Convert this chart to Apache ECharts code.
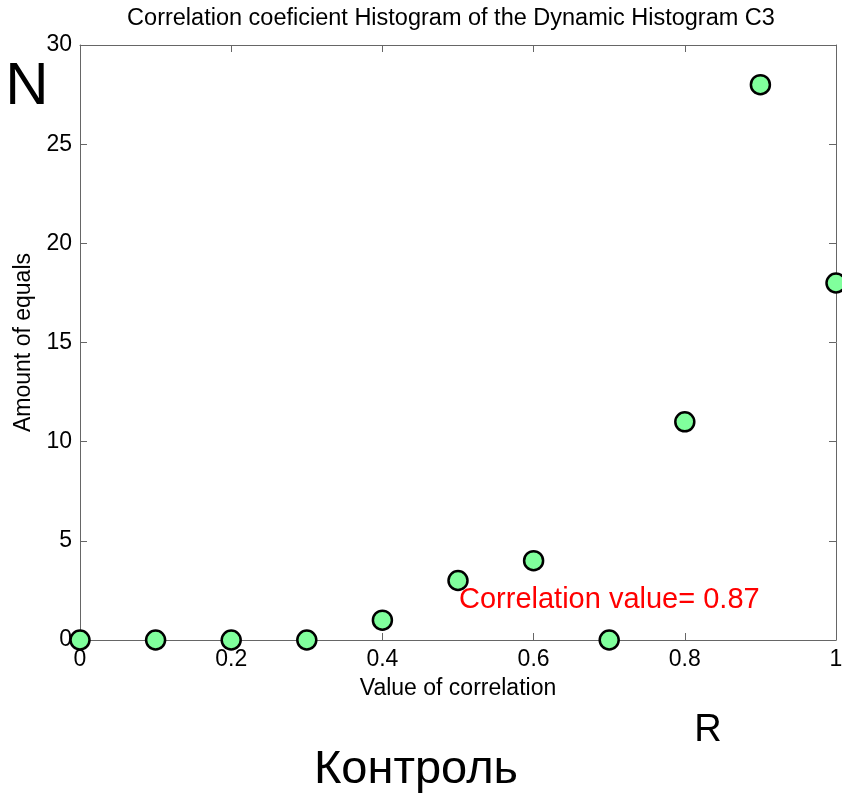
<!DOCTYPE html>
<html>
<head>
<meta charset="utf-8">
<script src="https://cdn.jsdelivr.net/npm/echarts@6/dist/echarts.min.js"></script>
<style>
  html, body { margin: 0; padding: 0; background: #fff; }
  #chart { width: 842px; height: 798px; }
</style>
</head>
<body>
<div id="chart"></div>
<script>
// correlation value bins and how many equals fell in each
const corrValues = [0, 0.1, 0.2, 0.3, 0.4, 0.5, 0.6, 0.7, 0.8, 0.9, 1.0];
const amountOfEquals = [0, 0, 0, 0, 1, 3, 4, 0, 11, 28, 18];
const xTicks = [0, 0.2, 0.4, 0.6, 0.8, 1];
const yTicks = [0, 5, 10, 15, 20, 25, 30];

const font = 'Liberation Sans, Arial, sans-serif';
const axisColor = '#666';

const chart = echarts.init(document.getElementById('chart'));

const baseAxis = {
  axisLine: { show: true, onZero: false, lineStyle: { color: axisColor, width: 1 } },
  axisTick: { show: true, inside: true, length: 7, lineStyle: { color: axisColor } },
  splitLine: { show: false }
};

const option = {
  animation: false,
  grid: { left: 80, right: 6, top: 45, bottom: 158, outerBoundsMode: 'none', containLabel: false },
  xAxis: [
    Object.assign({}, baseAxis, {
      type: 'value',
      min: 0, max: 1, interval: 0.2,
      position: 'bottom',
      name: 'Value of correlation',
      nameLocation: 'middle',
      nameGap: 37,
      nameTextStyle: { fontFamily: font, fontSize: 23, color: '#000' },
      axisLabel: {
        margin: 8,
        fontFamily: font, fontSize: 23, color: '#000',
        formatter: v => xTicks.indexOf(Math.round(v * 10) / 10) >= 0 ? String(Math.round(v * 10) / 10) : ''
      }
    }),
    Object.assign({}, baseAxis, {
      type: 'value',
      min: 0, max: 1, interval: 0.2,
      position: 'top',
      axisLabel: { show: false }
    })
  ],
  yAxis: [
    Object.assign({}, baseAxis, {
      type: 'value',
      min: 0, max: 30, interval: 5,
      position: 'left',
      name: 'Amount of equals',
      nameLocation: 'middle',
      nameGap: 42,
      nameRotate: 90,
      nameTextStyle: { fontFamily: font, fontSize: 23, color: '#000' },
      axisLabel: {
        margin: 8,
        fontFamily: font, fontSize: 23, color: '#000',
        formatter: v => yTicks.indexOf(v) >= 0 ? String(v) : ''
      }
    }),
    Object.assign({}, baseAxis, {
      type: 'value',
      min: 0, max: 30, interval: 5,
      position: 'right',
      axisLabel: { show: false }
    })
  ],
  series: [{
    type: 'scatter',
    clip: false,
    symbol: 'circle',
    symbolSize: 19,
    itemStyle: { color: '#80ff9c', borderColor: '#000', borderWidth: 2.5, opacity: 1 },
    data: corrValues.map((x, i) => [x, amountOfEquals[i]]),
    z: 5
  }],
  graphic: [
    {
      type: 'text', x: 451, y: 19,
      style: { text: 'Correlation coeficient Histogram of the Dynamic Histogram C3', font: '23.5px ' + font, fill: '#000', textAlign: 'center', textVerticalAlign: 'middle' }
    },
    {
      type: 'text', x: 459, y: 600,
      style: { text: 'Correlation value= 0.87', font: '29px ' + font, fill: '#ff0000', textVerticalAlign: 'middle' }
    },
    {
      type: 'text', x: 27, y: 87,
      style: { text: 'N', font: '60px ' + font, fill: '#000', textAlign: 'center', textVerticalAlign: 'middle' }
    },
    {
      type: 'text', x: 708, y: 731,
      style: { text: 'R', font: '38px ' + font, fill: '#000', textAlign: 'center', textVerticalAlign: 'middle' }
    },
    {
      type: 'text', x: 416, y: 770,
      style: { text: 'Контроль', font: '47px ' + font, fill: '#000', textAlign: 'center', textVerticalAlign: 'middle' }
    }
  ]
};

chart.setOption(option);
</script>
</body>
</html>
